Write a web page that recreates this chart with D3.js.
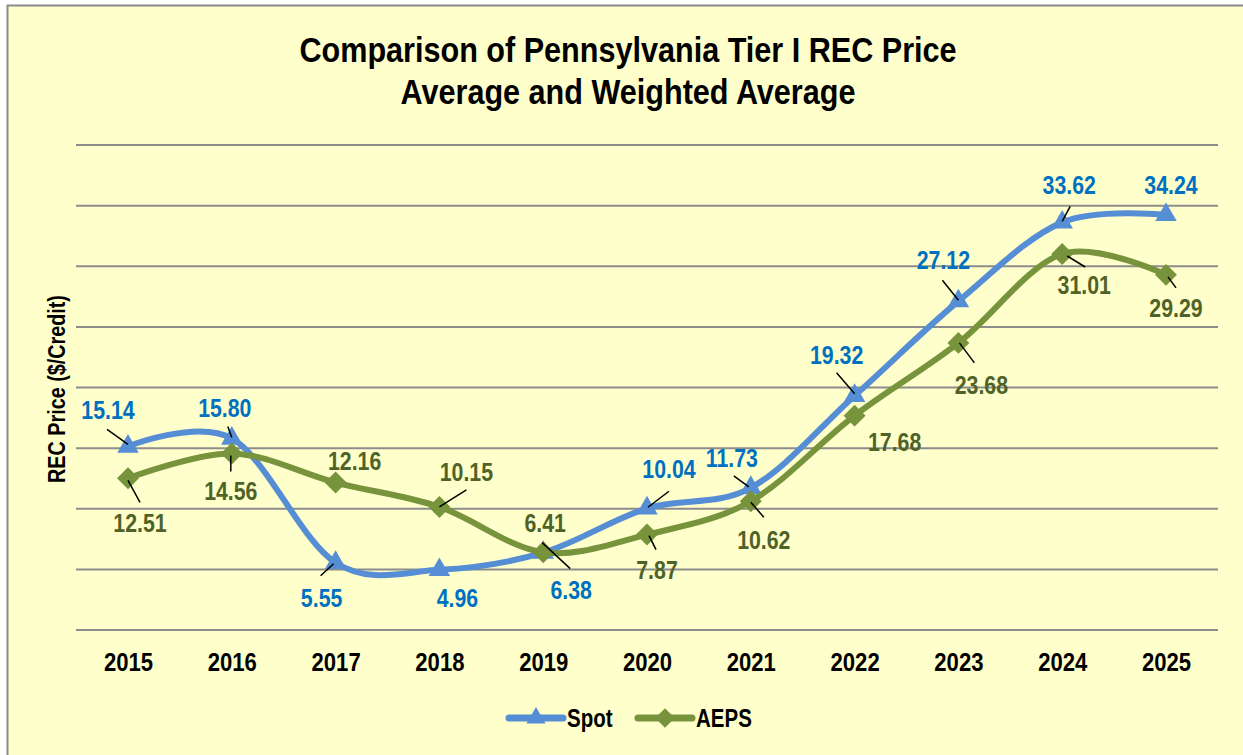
<!DOCTYPE html>
<html>
<head>
<meta charset="utf-8">
<script src="https://cdn.jsdelivr.net/npm/d3@7"></script>
<style>
  body { margin: 0; background: #fff; }
  svg text { font-family: "Liberation Sans Narrow", "Arial Narrow", "Liberation Sans", Arial, sans-serif; font-weight: bold; }
</style>
</head>
<body>
<svg id="chart"></svg>
<script>
const years = ["2015", "2016", "2017", "2018", "2019", "2020", "2021", "2022", "2023", "2024", "2025"];
const spot = [15.14, 15.80, 5.55, 4.96, 6.38, 10.04, 11.73, 19.32, 27.12, 33.62, 34.24];
const aeps = [12.51, 14.56, 12.16, 10.15, 6.41, 7.87, 10.62, 17.68, 23.68, 31.01, 29.29];
const yTicks = [0, 5, 10, 15, 20, 25, 30, 35, 40];

// label offsets from the point (dx, dy) and leader lines [x1, y1, x2, y2] relative to the point
const spotLabelPos = [[-20,-37],[-7,-31],[-14,35],[18,28],[28,37],[22,-40],[-19,-30],[-18,-41],[-15,-41],[7,-38],[5,-30]];
const spotLeaders = [[-21,-17,0,-2],[-4,-12,0,-1],[-15,13,-2,1],null,[-1,-10,27,16],[22,-17,1,-1],[-17,-12,-2,-1],[-18,-23,0,-2],[-16,-21,0,-1],[8,-16,0,-1],null];
const aepsLabelPos = [[12,44],[-1,37],[19,-22],[27,-35],[2,-30],[10,35],[13,38],[40,26],[23,42],[22,31],[10,33]];
const aepsLeaders = [[0,2,12,24],[-1,2,-1,18],null,[0,0,27,-17],null,[2,1,9,15],[0,1,13,16],null,[1,0,16,20],[5,2,23,13],[2,2,10,13]];

const width = 1243;
const height = 755;
// no narrow font installed, so squeeze the regular one
const squeeze = 0.82;

const svg = d3.select("#chart").attr("width", width).attr("height", height);

// chart area with its border
svg.append("rect").attr("x", 8).attr("y", 6).attr("width", width).attr("height", height)
    .attr("fill", "#FFFFCC");
svg.append("line").attr("x1", 7).attr("x2", width).attr("y1", 5.5).attr("y2", 5.5)
    .attr("stroke", "#8a8a8a").attr("stroke-width", 2);
svg.append("line").attr("x1", 7.5).attr("x2", 7.5).attr("y1", 5).attr("y2", height)
    .attr("stroke", "#8a8a8a").attr("stroke-width", 2);

const x = d3.scalePoint().domain(years).range([128, 1166]);
const y = d3.scaleLinear().domain([0, 40]).range([630, 145]);

// gridlines
svg.append("g").selectAll("line").data(yTicks).join("line")
    .attr("x1", 76).attr("x2", 1218)
    .attr("y1", d => y(d)).attr("y2", d => y(d))
    .attr("stroke", "#8c8c8c").attr("stroke-width", 2);

// x axis labels
const xAxis = d3.axisBottom(x).tickSize(0).tickPadding(0);
svg.append("g").attr("transform", "translate(0,652)").call(xAxis)
    .call(g => g.select(".domain").remove())
    .call(g => g.selectAll("text").attr("font-size", 26).attr("fill", "#000")
        .attr("font-family", null).attr("dy", "0.72em")
        .attr("transform", "scale(0.85,1)"));

function narrowText(sel, px, py, sx) {
  return sel.append("text").attr("transform", `translate(${px},${py}) scale(${sx},1)`);
}

// titles
narrowText(svg, 628, 62, 0.85).attr("text-anchor", "middle")
    .attr("font-size", 36).text("Comparison of Pennsylvania Tier I REC Price");
narrowText(svg, 628, 104, 0.85).attr("text-anchor", "middle")
    .attr("font-size", 36).text("Average and Weighted Average");
svg.append("text").attr("transform", "translate(65,389) rotate(-90) scale(0.86,1)")
    .attr("text-anchor", "middle").attr("font-size", 23).text("REC Price ($/Credit)");

const line = d3.line()
    .x((d, i) => x(years[i]))
    .y(d => y(d))
    .curve(d3.curveCardinal.tension(0));

const series = [
  { name: "Spot", values: spot, color: "#558ED5", labelColor: "#0070C0", symbol: d3.symbolTriangle, size: 200, rot: 0, pos: spotLabelPos, leaders: spotLeaders },
  { name: "AEPS", values: aeps, color: "#77933C", labelColor: "#4F6228", symbol: d3.symbolSquare, size: 240, rot: 45, pos: aepsLabelPos, leaders: aepsLeaders }
];

series.forEach(s => {
  const g = svg.append("g");
  g.append("path").datum(s.values).attr("d", line)
      .attr("fill", "none").attr("stroke", s.color).attr("stroke-width", 6)
      .attr("stroke-linecap", "round");
  g.selectAll("path.mark").data(s.values).join("path").attr("class", "mark")
      .attr("d", d3.symbol(s.symbol, s.size))
      .attr("transform", (d, i) => `translate(${x(years[i])},${y(d)}) rotate(${s.rot})`)
      .attr("fill", s.color);
});

// leaders and labels drawn on top
series.forEach(s => {
  const g = svg.append("g");
  s.values.forEach((d, i) => {
    const px = x(years[i]), py = y(d);
    const ld = s.leaders[i];
    if (ld) {
      g.append("line").attr("x1", px + ld[0]).attr("y1", py + ld[1])
          .attr("x2", px + ld[2]).attr("y2", py + ld[3])
          .attr("stroke", "#000").attr("stroke-width", 1.5);
    }
    narrowText(g, px + s.pos[i][0], py + s.pos[i][1], squeeze)
        .attr("text-anchor", "middle").attr("dominant-baseline", "central")
        .attr("font-size", 26).attr("fill", s.labelColor)
        .text(d.toFixed(2));
  });
});

// legend
const legend = svg.append("g").attr("transform", "translate(507,718)");
const legendX = [0, 129];
series.forEach((s, i) => {
  const lg = legend.append("g").attr("transform", `translate(${legendX[i]},0)`);
  lg.append("line").attr("x1", 2).attr("x2", 56).attr("y1", 0).attr("y2", 0)
      .attr("stroke", s.color).attr("stroke-width", 7).attr("stroke-linecap", "round");
  lg.append("path").attr("d", d3.symbol(s.symbol, s.size * 0.8))
      .attr("transform", `translate(29,0) rotate(${s.rot})`).attr("fill", s.color);
  narrowText(lg, 60, 0, squeeze).attr("dominant-baseline", "central")
      .attr("font-size", 25).text(s.name);
});
</script>
</body>
</html>
